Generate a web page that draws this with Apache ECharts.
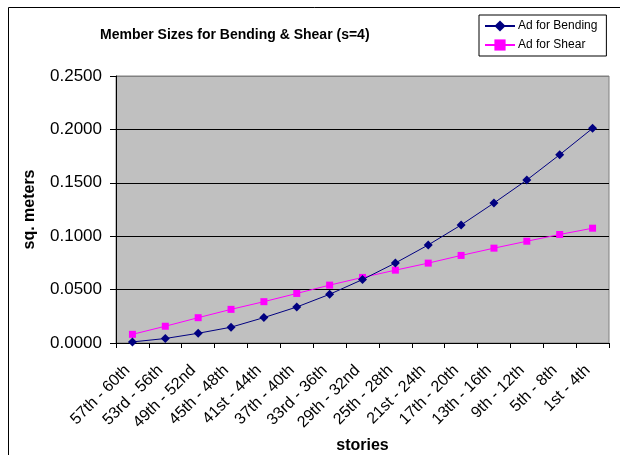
<!DOCTYPE html>
<html>
<head>
<meta charset="utf-8">
<script src="https://cdn.jsdelivr.net/npm/echarts@6/dist/echarts.min.js"></script>
<style>
  html, body { margin: 0; padding: 0; background: #ffffff; }
  #chart { width: 620px; height: 455px; }
</style>
</head>
<body>
<div id="chart"></div>
<script>
// Story groups, top of the building first
const stories = [
  '57th - 60th', '53rd - 56th', '49th - 52nd', '45th - 48th', '41st - 44th',
  '37th - 40th', '33rd - 36th', '29th - 32nd', '25th - 28th', '21st - 24th',
  '17th - 20th', '13th - 16th', '9th - 12th', '5th - 8th', '1st - 4th'
];

// Required areas (sq. meters)
const adBending = [
  0.0010, 0.0042, 0.0091, 0.0148, 0.0238, 0.0337, 0.0456, 0.0594,
  0.0749, 0.0918, 0.1105, 0.1311, 0.1526, 0.1763, 0.2010
];
const adShear = [
  0.0081, 0.0157, 0.0237, 0.0315, 0.0387, 0.0464, 0.0542, 0.0614,
  0.0682, 0.0748, 0.0820, 0.0888, 0.0953, 0.1016, 0.1075
];

const yTicks = { min: 0, max: 0.25, interval: 0.05 };

const FONT = 'Liberation Sans, Arial, Helvetica, sans-serif';

const chart = echarts.init(document.getElementById('chart'), null, { renderer: 'canvas' });

chart.setOption({
  backgroundColor: '#ffffff',
  animation: false,
  textStyle: { fontFamily: FONT, color: '#000' },
  title: {
    text: 'Member Sizes for Bending & Shear (s=4)',
    left: 100,
    top: 28,
    padding: 0,
    textStyle: { fontFamily: FONT, fontSize: 14, fontWeight: 'bold', color: '#000' }
  },
  legend: {
    orient: 'vertical',
    left: 479,
    top: 15,
    width: 129,
    padding: [5, 9, 5, 5],
    itemGap: 7,
    itemWidth: 30,
    itemHeight: 14,
    borderColor: '#000',
    borderWidth: 1,
    backgroundColor: '#fff',
    textStyle: { fontFamily: FONT, fontSize: 12, color: '#000', padding: [0, 0, 0, -2] },
    data: ['Ad for Bending', 'Ad for Shear']
  },
  grid: {
    left: 116,
    right: 11,
    top: 76,
    bottom: 112,
    show: true,
    backgroundColor: '#C0C0C0',
    borderColor: '#808080',
    borderWidth: 1,
    containLabel: false,
    outerBoundsMode: 'none'
  },
  xAxis: {
    type: 'category',
    data: stories,
    boundaryGap: true,
    name: 'stories',
    nameLocation: 'middle',
    nameGap: 91,
    nameTextStyle: { fontFamily: FONT, fontSize: 16, fontWeight: 'bold', color: '#000' },
    axisLine: { show: true, lineStyle: { color: '#000', width: 1 } },
    axisTick: { show: true, alignWithLabel: false, interval: 0, length: 5, lineStyle: { color: '#000' } },
    axisLabel: {
      interval: 0,
      rotate: 45,
      margin: 20,
      padding: [0, 7, 0, 0],
      fontFamily: FONT,
      fontSize: 16,
      color: '#000'
    },
    splitLine: { show: false }
  },
  yAxis: {
    type: 'value',
    min: yTicks.min,
    max: yTicks.max,
    interval: yTicks.interval,
    name: 'sq. meters',
    nameLocation: 'middle',
    nameRotate: 90,
    nameGap: 78,
    nameTextStyle: { fontFamily: FONT, fontSize: 16, fontWeight: 'bold', color: '#000' },
    axisLine: { show: true, lineStyle: { color: '#000', width: 1 } },
    axisTick: { show: true, inside: false, length: 6, lineStyle: { color: '#000' } },
    axisLabel: {
      margin: 14,
      fontFamily: FONT,
      fontSize: 17,
      color: '#000',
      formatter: v => v.toFixed(4)
    },
    splitLine: {
      show: true,
      lineStyle: { color: ['#000', '#000', '#000', '#000', '#000', '#808080'], width: 1 }
    }
  },
  series: [
    {
      name: 'Ad for Bending',
      type: 'line',
      data: adBending,
      symbol: 'diamond',
      symbolSize: 9,
      color: '#000080',
      lineStyle: { color: '#000080', width: 1 },
      itemStyle: { color: '#000080' },
      z: 3
    },
    {
      name: 'Ad for Shear',
      type: 'line',
      data: adShear,
      symbol: 'rect',
      symbolSize: 7,
      color: '#FF00FF',
      lineStyle: { color: '#FF00FF', width: 1 },
      itemStyle: { color: '#FF00FF' },
      z: 2
    }
  ],
  graphic: [
    {
      type: 'rect',
      left: 6,
      top: 5,
      shape: { x: 0, y: 0, width: 700, height: 500 },
      style: { fill: 'none', stroke: '#000', lineWidth: 1 },
      silent: true
    }
  ]
});
</script>
</body>
</html>
